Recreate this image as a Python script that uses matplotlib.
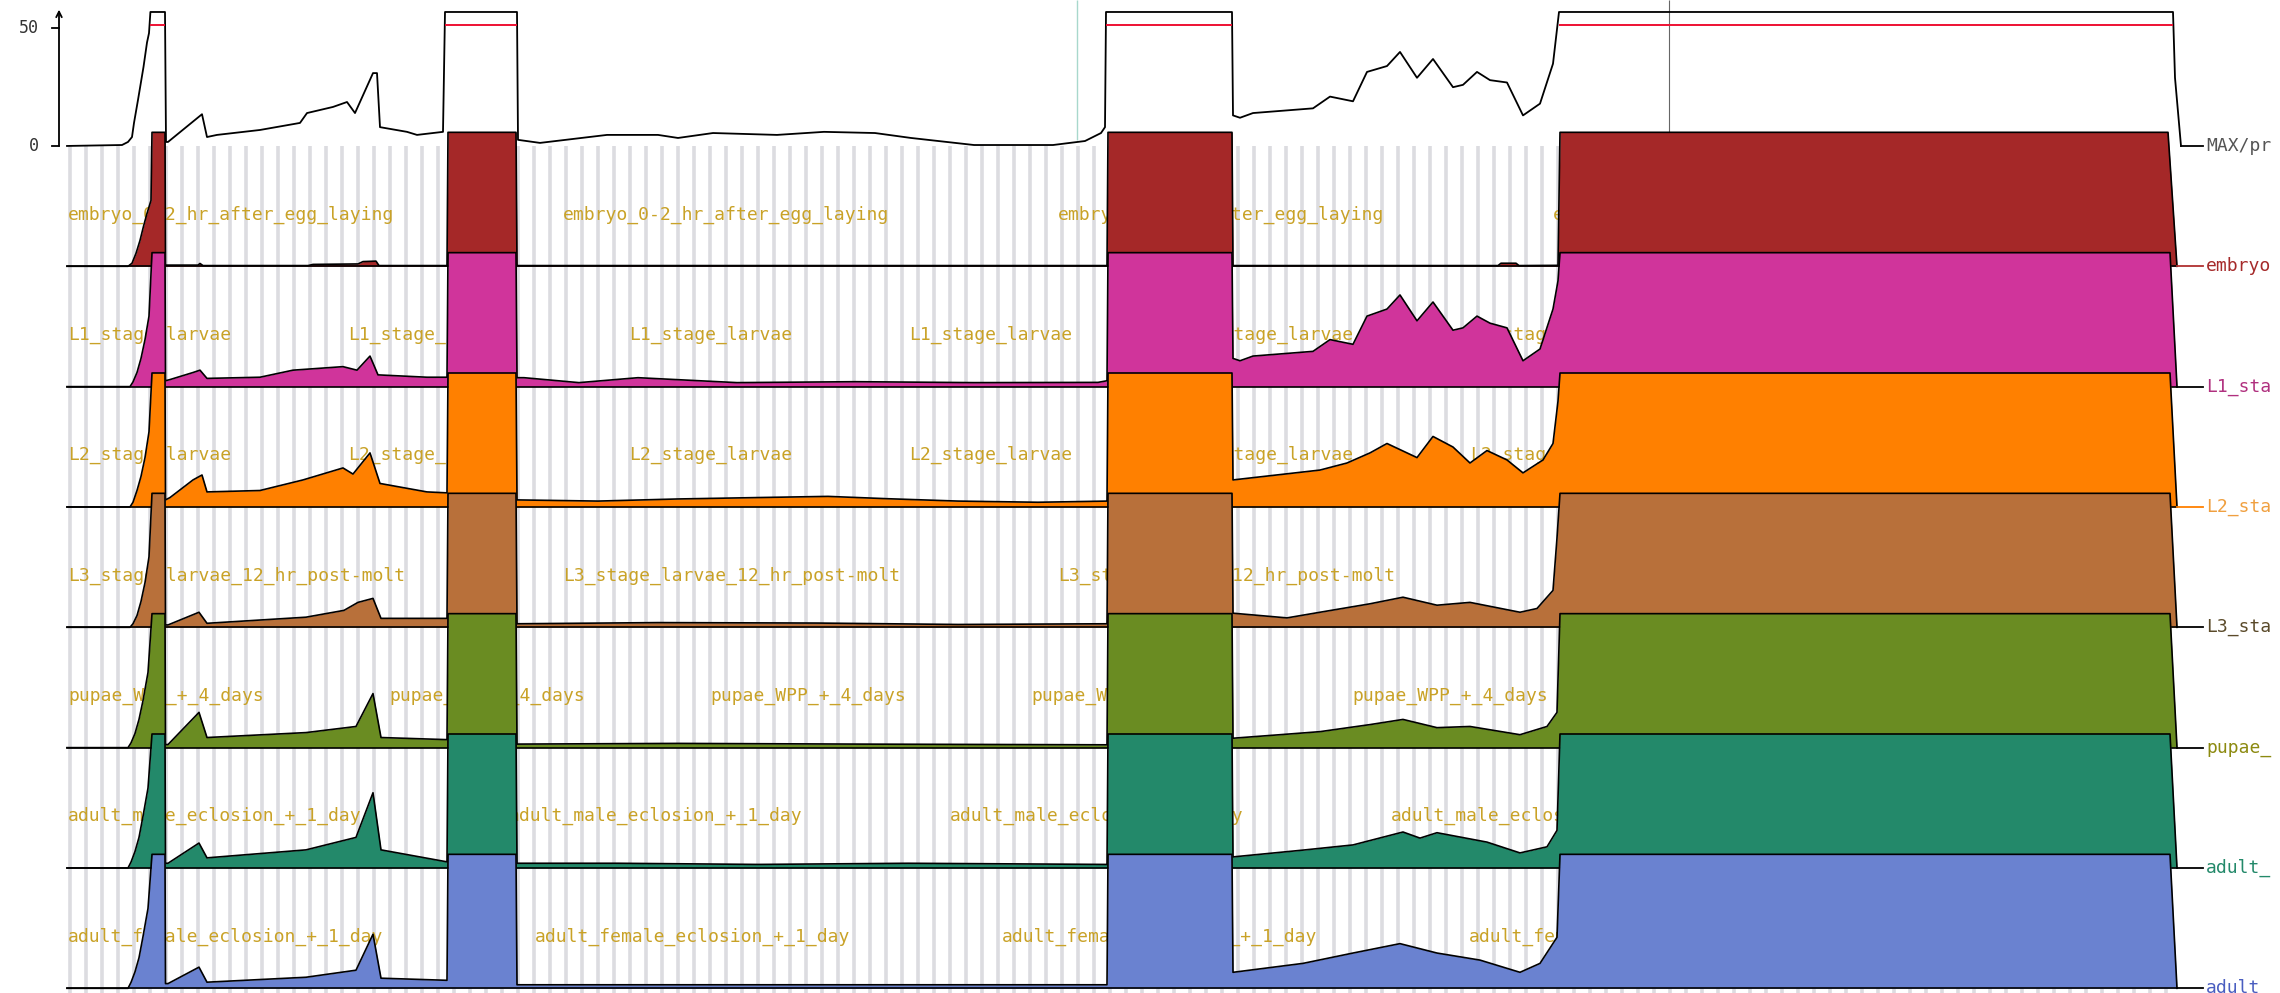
import matplotlib
matplotlib.use('Agg')
import matplotlib.pyplot as plt
import numpy as np

# signal tracks along one genomic window (position in bins, height in signal units)
CLIP = 57      # values above this are clipped in the view
RED = 51.5     # clipping marker drawn in the summary track
TRACK_GAP = 51.2

max_pos = [9, 64, 70, 74, 76, 80, 85.5, 89, 91, 92.4, 107, 107.5, 108, 110, 144, 149, 159, 202, 242, 249,
           275, 289, 297, 315, 319, 322, 349, 359, 385, 387, 459, 460, 482, 549, 600, 620, 655, 719, 766,
           817, 853, 916, 995, 1027, 1043, 1047, 1048, 1174, 1175, 1182, 1195, 1255, 1272, 1295, 1309,
           1329, 1342, 1359, 1375, 1395, 1405, 1419, 1432, 1449, 1465, 1482, 1495, 1501, 2115, 2117, 2123]
max_val = [0, 0.4, 1.7, 3.8, 9.8, 19.6, 33.6, 44, 48, 60, 60, 29, 1.7, 1.7, 13.5, 3.8, 4.7, 6.8, 9.8, 14,
           16.6, 18.7, 14, 31, 31, 8, 6, 4.7, 6, 60, 60, 2.6, 1.3, 4.7, 4.7, 3.4, 5.5, 4.7, 6,
           5.5, 3.4, 0.4, 0.4, 2.1, 5.5, 8, 60, 60, 13, 12, 14, 16, 21, 19, 31.5,
           34, 40, 29, 37, 25, 26, 31.5, 28, 27, 13, 18, 35, 60, 60, 29, 0]

embryo_pos = [9, 70, 74, 78, 82, 85.5, 89, 93, 94, 107, 107.5, 140, 142, 145, 250, 255, 300, 305, 318, 321,
              389, 390, 458, 459, 1049, 1050, 1174, 1175, 1440, 1443, 1458, 1461, 1500, 1502, 2110, 2119]
embryo_val = [0, 0, 1.3, 5.5, 11, 17, 22.5, 28, 60, 60, 0.5, 0.5, 1.2, 0.3, 0.3, 0.8, 1, 2, 2.2, 0.3,
              0.3, 60, 60, 0.3, 0.3, 60, 60, 0.3, 0.3, 1.3, 1.3, 0.3, 0.4, 60, 60, 0]

l1_pos = [9, 72, 75, 79, 83, 87, 91, 94, 107, 107.5, 112, 135, 142, 149, 202, 235, 285, 299, 312, 320,
          369, 389, 390, 458, 459, 466, 521, 580, 679, 798, 916, 1040, 1049, 1050, 1174, 1175, 1182,
          1195, 1255, 1272, 1295, 1309, 1329, 1342, 1359, 1375, 1395, 1405, 1419, 1432, 1449, 1465,
          1482, 1495, 1500, 1502, 2112, 2119]
l1_val = [0, 0, 2, 6, 12, 20, 30, 60, 60, 2.5, 3, 6, 7, 3.5, 4, 7, 8.5, 7, 13, 5,
          4, 4, 60, 60, 3.8, 3.8, 1.7, 3.8, 1.7, 2.1, 1.7, 1.8, 2.5, 60, 60, 12, 11,
          13, 15, 20, 18, 30, 33, 39, 28, 36, 24, 25, 30, 27, 25, 11,
          16, 33, 45, 60, 60, 0]

l2_pos = [9, 72, 75, 79, 83, 87, 91, 94, 107, 107.5, 112, 135, 144, 149, 202, 245, 285, 295, 312, 322,
          369, 389, 390, 458, 459, 540, 620, 700, 770, 830, 900, 980, 1049, 1050, 1174, 1175, 1262,
          1289, 1312, 1329, 1359, 1375, 1395, 1412, 1429, 1449, 1465, 1485, 1495, 1500, 1502, 2112, 2119]
l2_val = [0, 0, 2, 7, 13, 21, 32, 60, 60, 3, 4, 11.5, 13.6, 6.4, 7, 11.5, 16.6, 14, 23, 10,
          6.4, 6, 60, 60, 3, 2.5, 3.4, 4, 4.5, 3.5, 2.5, 2, 2.5, 60, 60, 11.5, 15.7,
          18.7, 23, 27, 21, 30, 25.5, 18.7, 24, 20, 14.5, 20, 27, 45, 60, 60, 0]

l3_pos = [9, 72, 75, 79, 83, 87, 91, 94, 107, 107.5, 110, 141, 149, 248, 286, 300, 315, 323, 389, 390,
          458, 459, 600, 760, 900, 1049, 1050, 1174, 1175, 1229, 1262, 1312, 1345, 1379, 1412, 1462,
          1479, 1495, 1499, 1502, 2112, 2119]
l3_val = [0, 0, 1.5, 5, 11, 19, 30, 60, 60, 1, 1, 6.4, 1.7, 4.3, 7.2, 10.6, 12.3, 3.8, 3.8, 60,
          60, 1.5, 2, 1.8, 1.2, 1.5, 60, 60, 6, 4, 6.4, 10, 12.8, 9.4, 10.6, 6.4,
          8, 15.7, 38, 60, 60, 0]

pupae_pos = [9, 70, 73, 77, 81, 85, 90, 94, 107, 107.5, 110, 141, 149, 248, 298, 315, 323, 389, 390,
             458, 459, 620, 800, 1049, 1050, 1174, 1175, 1222, 1262, 1312, 1345, 1379, 1412, 1462,
             1489, 1499, 1502, 2112, 2119]
pupae_val = [0, 0, 2, 6, 12, 20, 32, 60, 60, 1.3, 1.3, 15, 4.3, 6.4, 9, 23, 4.3, 3.4, 60,
             60, 1.5, 1.8, 1.5, 1.2, 60, 60, 4, 5.5, 6.8, 9.8, 12, 8.5, 9, 5.5,
             9, 15, 60, 60, 0]

male_pos = [9, 70, 73, 77, 81, 85, 90, 94, 107, 107.5, 110, 141, 149, 248, 298, 315, 323, 389, 390,
            458, 459, 560, 700, 850, 1049, 1050, 1174, 1175, 1245, 1295, 1345, 1362, 1379, 1429, 1462,
            1489, 1499, 1502, 2112, 2119]
male_val = [0, 0, 2.5, 7, 13, 22, 34, 60, 60, 2, 2, 10.6, 4.3, 7.7, 13, 32, 7.7, 2.6, 60,
            60, 2, 2, 1.5, 2, 1.5, 60, 60, 4.7, 7.6, 9.8, 15.3, 12.7, 15, 11, 6.4,
            9, 16, 60, 60, 0]

female_pos = [9, 70, 73, 77, 81, 85, 90, 94, 107, 107.5, 110, 141, 149, 248, 298, 315, 323, 389, 390,
              458, 459, 1049, 1050, 1174, 1175, 1245, 1295, 1342, 1379, 1422, 1462, 1482, 1499, 1502,
              2112, 2119]
female_val = [0, 0, 2.5, 7, 13, 22, 34, 60, 60, 2, 2, 9, 2.6, 4.7, 7.7, 23, 4.3, 3.4, 60,
              60, 1.5, 1.5, 60, 60, 6.8, 10.6, 15, 19, 15, 12, 6.8, 10.6, 21.7, 60,
              60, 0]

track_names = ['embryo_0-2_hr_after_egg_laying', 'L1_stage_larvae', 'L2_stage_larvae',
               'L3_stage_larvae_12_hr_post-molt', 'pupae_WPP_+_4_days',
               'adult_male_eclosion_+_1_day', 'adult_female_eclosion_+_1_day']
# right-hand names as far as they fit in the view
side_names = ['embryo', 'L1_sta', 'L2_sta', 'L3_sta', 'pupae_', 'adult_', 'adult_']
track_colors = ['#a52828', '#d0349b', '#ff8000', '#b8703a', '#6a8c22', '#23896a', '#6a82d0']
name_colors = ['#a52a2a', '#b0307f', '#f0a040', '#5a4a2a', '#8c8a10', '#23896a', '#4a5ec0']
tick_colors = ['#b03030', 'black', '#ff8000', 'black', 'black', 'black', 'black']
label_repeat = [495, 280.5, 280.5, 495, 321, 441, 467]
summary_name = 'MAX/pr'

tracks_pos = [embryo_pos, l1_pos, l2_pos, l3_pos, pupae_pos, male_pos, female_pos]
tracks_val = [embryo_val, l1_val, l2_val, l3_val, pupae_val, male_val, female_val]

fig = plt.figure(figsize=(22.8, 9.93), dpi=100)
ax = fig.add_axes([0, 0, 1, 1])
ax.set_xlim(-58, 2222)
ax.set_ylim(-360.4, 62.1)
ax.axis('off')

mono = 'DejaVu Sans Mono'
x_end = 2119
bottom = -360.4

# striped background behind the data tracks
ax.vlines(np.arange(12, x_end, 16), bottom, 0, color='#dcdce0', lw=2.6, zorder=0.5)

# summary track
mx = np.array(max_pos, dtype=float)
mv = np.array(max_val, dtype=float)
ax.plot(mx, np.minimum(mv, CLIP), color='black', lw=1.3, zorder=20)
for i in range(len(mx) - 1):
    if mv[i] >= CLIP and mv[i + 1] >= CLIP:
        ax.hlines(RED, mx[i], mx[i + 1], color='#ee1133', lw=1.4, zorder=21)
ax.plot([max_pos[-1], 2145], [0, 0], color='black', lw=1.3, zorder=20)
ax.text(2148, 0, summary_name, color='#555555', fontsize=13, family=mono,
        va='center', ha='left')

# highlight marks in the summary track
ax.vlines(1019, 2.5, 62, color='#a8d8cc', lw=1.0, zorder=1)
ax.vlines(1611, 2.5, 62, color='#666666', lw=0.8, zorder=1)

# y axis of the summary track
ax.annotate('', xy=(1, 58), xytext=(1, 0),
            arrowprops=dict(arrowstyle='->', lw=1.3, color='black', shrinkA=0, shrinkB=0))
for v in [0, 50]:
    ax.plot([-6, 1], [v, v], color='black', lw=1.3)
    ax.text(-19, v, str(v), fontsize=12, family=mono, color='#333333',
            ha='right', va='center')

# coloured tracks
for k in range(len(track_names)):
    off = -TRACK_GAP * (k + 1)
    px = np.array(tracks_pos[k], dtype=float)
    pv = np.minimum(np.array(tracks_val[k], dtype=float), CLIP)
    z = 3 + k * 2
    ax.fill_between(px, off, off + pv, color=track_colors[k], lw=0, zorder=z)
    ax.plot(px, off + pv, color='black', lw=1.2, zorder=z + 0.5)
    ax.plot([px[0], x_end], [off, off], color='black', lw=1.2, zorder=z + 0.5)
    ax.plot([x_end, 2145], [off, off], color=tick_colors[k], lw=1.3, zorder=z + 0.5)
    for s in np.arange(10, 1502, label_repeat[k]):
        ax.text(s, off + 22, track_names[k], color='#c9a227', fontsize=13, family=mono,
                va='center', ha='left', zorder=2)
    ax.text(2148, off, side_names[k], color=name_colors[k], fontsize=13, family=mono,
            va='center', ha='left', zorder=30)

fig.savefig('out.png', dpi=100)
